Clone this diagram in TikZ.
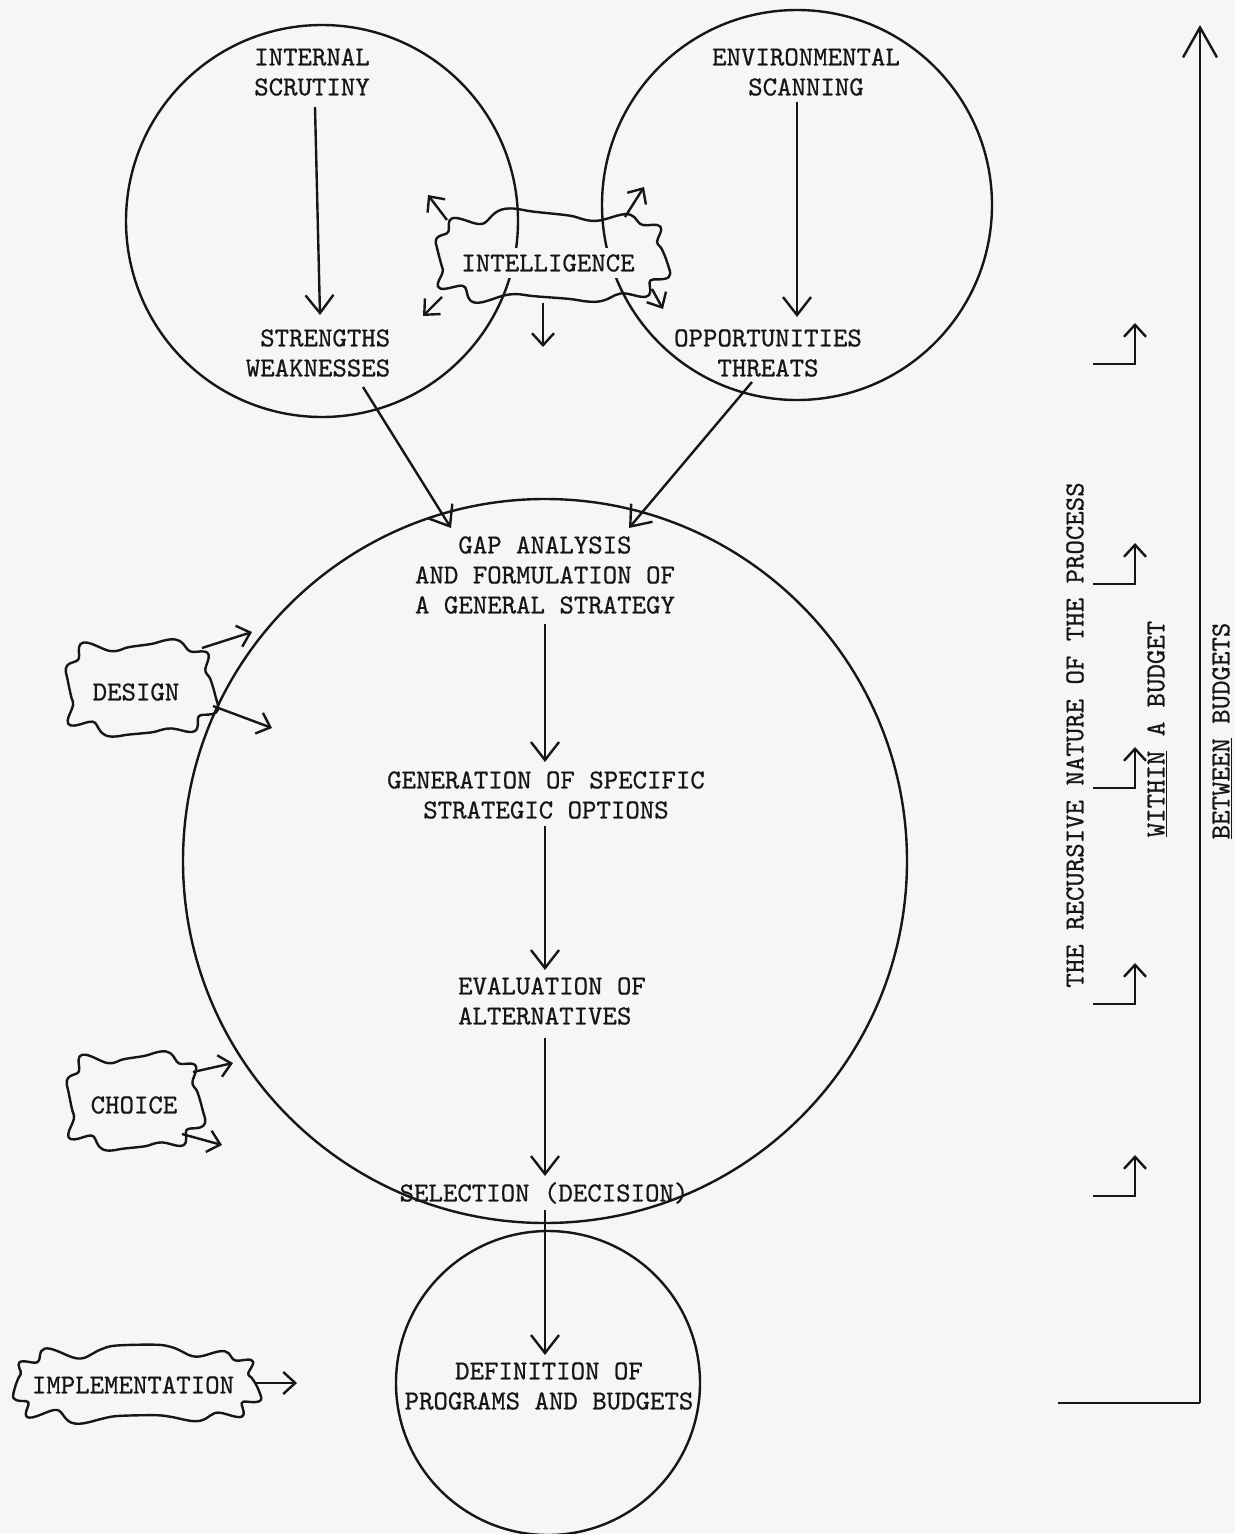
\documentclass[tikz,border=0pt]{standalone}
\usepackage{fontspec}
\newfontfamily\tw{lmmono10-regular.otf}[FakeBold=0.7]
\usetikzlibrary{arrows.meta}
\definecolor{paper}{RGB}{246,246,246}
\definecolor{ink}{RGB}{22,22,22}
\tikzset{
  ln/.style={line width=2.4pt, draw=ink},
  arr/.style={ln, -{Straight Barb[length=18pt,width=28pt,line width=2.4pt]}},
  sarr/.style={ln, -{Straight Barb[length=12pt,width=22pt,line width=2.4pt]}},
  bigarr/.style={ln, -{Straight Barb[length=30pt,width=34pt,line width=2.4pt]}},
  txt/.style={font=\tw\fontsize{27.5}{30}\selectfont, text=ink, align=center, inner sep=0pt},
  ring/.style={circle, ln, inner sep=0pt}
}
% wavy cloud outline: centre x, centre y, half width, half height, amplitude, waves
\newcommand\wobble[6]{%
  \draw[ln, line join=round] plot[smooth cycle, tension=0.6, variable=\t, domain=0:356, samples=90]
   ({#1+(#3+#5*sin(#6*\t)+0.4*#5*sin((#6-3)*\t+40))*sign(cos(\t))*pow(abs(cos(\t))+0.0001,0.55)},
    {#2+(#4+#5*sin(#6*\t)+0.4*#5*sin((#6-3)*\t+40))*sign(sin(\t))*pow(abs(sin(\t))+0.0001,0.55)});
}
\begin{document}
\begin{tikzpicture}[x=1pt,y=-1pt]
\useasboundingbox (0,0) rectangle (1235,1534);
\fill[paper] (0,0) rectangle (1235,1534);

% circles
\node[ring, minimum size=392pt] (cL) at (322,221) {};
\node[ring, minimum size=390pt] (cR) at (797,205) {};
\node[ring, minimum size=724pt] (cB) at (545,861) {};
\node[ring, minimum size=304pt] (cD) at (548,1383) {};

% texts
\node[txt] (intS) at (312,72) {INTERNAL\\SCRUTINY};
\node[txt, align=right] (sw) at (318,353) {STRENGTHS\\WEAKNESSES};
\node[txt] (envS) at (806,72) {ENVIRONMENTAL\\SCANNING};
\node[txt] (ot) at (768,353) {OPPORTUNITIES\\THREATS};
\node[txt, fill=paper, inner xsep=2pt, inner ysep=6pt] (intel) at (548,263) {INTELLIGENCE};
\node[txt] (gap) at (545,575) {GAP ANALYSIS\\AND FORMULATION OF\\A GENERAL STRATEGY};
\node[txt] (gen) at (546,795) {GENERATION OF SPECIFIC\\STRATEGIC OPTIONS};
\node[txt, align=left] (eval) at (552,1001) {EVALUATION OF\\ALTERNATIVES};
\node[txt] (sel) at (544,1193) {SELECTION (DECISION)};
\node[txt] (def) at (549,1386) {DEFINITION OF\\PROGRAMS AND BUDGETS};
\node[txt] (design) at (136,692) {DESIGN};
\node[txt] (choice) at (134,1105) {CHOICE};
\node[txt] (impl) at (133,1385) {IMPLEMENTATION};

% clouds
\wobble{551}{257}{113}{42}{5}{10}
\wobble{140}{688}{72}{44}{5}{8}
\wobble{134}{1101}{65}{45}{5}{8}
\wobble{136}{1385}{119}{34}{5}{11}

% main arrows
\coordinate (a1s) at (315,107); \coordinate (a1e) at (320,315);
\coordinate (a2s) at (797,102); \coordinate (a2e) at (797,317);
\coordinate (a3s) at (363,387); \coordinate (a3e) at (451,528);
\coordinate (a4s) at (752,382); \coordinate (a4e) at (629,528);
\coordinate (a5s) at (545,624); \coordinate (a5e) at (545,762);
\coordinate (a6s) at (545,826); \coordinate (a6e) at (545,970);
\coordinate (a7s) at (545,1038); \coordinate (a7e) at (545,1176);
\coordinate (a8s) at (545,1210); \coordinate (a8e) at (545,1355);
\foreach \i in {1,...,8} \draw[arr] (a\i s) -- (a\i e);

% cloud arrows
\coordinate (i1s) at (447,220); \coordinate (i1e) at (428,195);
\coordinate (i2s) at (442,297); \coordinate (i2e) at (423,316);
\coordinate (i3s) at (543,303); \coordinate (i3e) at (543,347);
\coordinate (i4s) at (625,217); \coordinate (i4e) at (644,187);
\coordinate (i5s) at (652,289); \coordinate (i5e) at (663,309);
\coordinate (i6s) at (202,648); \coordinate (i6e) at (252,632);
\coordinate (i7s) at (213,706); \coordinate (i7e) at (272,728);
\coordinate (i8s) at (193,1072); \coordinate (i8e) at (233,1063);
\coordinate (i9s) at (182,1134); \coordinate (i9e) at (222,1145);
\coordinate (i10s) at (256,1383); \coordinate (i10e) at (297,1383);
\foreach \i in {1,...,10} \draw[sarr] (i\i s) -- (i\i e);

% right-hand scale
\coordinate (bl) at (1058,1403);
\coordinate (br) at (1200,1403);
\coordinate (bt) at (1200,25);
\draw[ln] (bl) -- (br);
\draw[bigarr] (br) -- (bt);
\foreach \y in {364,584,788,1004,1196}{
  \coordinate (l\y a) at (1093,\y);
  \coordinate (l\y b) at (1135,\y);
  \coordinate (l\y c) at (1135,\y-41);
  \draw[sarr] (l\y a) -- (l\y b) -- (l\y c);
}
\node[txt, rotate=90] (rec) at (1075,735) {THE RECURSIVE NATURE OF THE PROCESS};
\node[txt, rotate=90] (within) at (1157,729) {\underline{WITHIN} A BUDGET};
\node[txt, rotate=90] (between) at (1222,731) {\underline{BETWEEN} BUDGETS};
\end{tikzpicture}
\end{document}
